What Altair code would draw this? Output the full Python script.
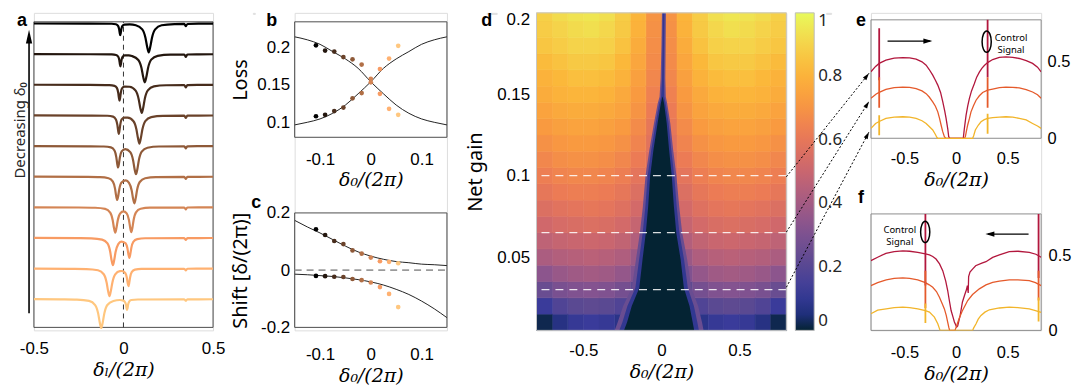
import altair as alt
import pandas as pd

FONT = "Noto Sans"
SERIF = "DejaVu Serif"
BOLD = "Liberation Sans"
TXT = "#262626"
MINUS = "replace(datum.label, '\u2212', '-')"

# ============ panel a : transmission traces (x, depth below baseline) ============
trace_colors = ["#000000", "#23160e", "#472c1c", "#6a422a", "#8e5938",
                "#b16f46", "#d48555", "#f89b63", "#ffb171", "#ffc77f"]
trace_0 = [(-0.5, 0.0), (-0.2, 0.003), (-0.066, 0.008), (-0.042, 0.025), (-0.03, 0.08), (-0.024, 0.19),
           (-0.021, 0.3), (-0.018, 0.38), (-0.015, 0.3), (-0.012, 0.19), (-0.006, 0.08), (0.006, 0.035),
           (0.035, 0.03), (0.069, 0.057), (0.105, 0.19), (0.123, 0.47), (0.132, 0.75), (0.141, 0.94),
           (0.15, 0.75), (0.159, 0.47), (0.177, 0.19), (0.213, 0.057), (0.285, 0.02), (0.338, 0.015),
           (0.344, 0.05), (0.348, 0.09), (0.352, 0.05), (0.358, 0.015), (0.42, 0.006), (0.5, 0.003)]
trace_1 = [(-0.5, 0.0), (-0.2, 0.004), (-0.065, 0.01), (-0.041, 0.03), (-0.029, 0.085), (-0.023, 0.2),
           (-0.02, 0.32), (-0.017, 0.4), (-0.014, 0.32), (-0.011, 0.2), (-0.005, 0.09), (0.007, 0.04),
           (0.03, 0.04), (0.047, 0.06), (0.083, 0.19), (0.101, 0.46), (0.11, 0.74), (0.119, 0.92),
           (0.128, 0.74), (0.137, 0.46), (0.155, 0.18), (0.191, 0.055), (0.263, 0.015), (0.338, 0.012),
           (0.344, 0.05), (0.348, 0.09), (0.352, 0.05), (0.358, 0.012), (0.42, 0.006), (0.5, 0.003)]
trace_2 = [(-0.5, 0.0), (-0.2, 0.005), (-0.078, 0.012), (-0.05, 0.035), (-0.036, 0.11), (-0.029, 0.27),
           (-0.0255, 0.42), (-0.022, 0.52), (-0.0185, 0.42), (-0.015, 0.27), (-0.008, 0.115), (0.006, 0.06),
           (0.034, 0.065), (0.068, 0.19), (0.085, 0.47), (0.0935, 0.74), (0.102, 0.92), (0.1105, 0.74),
           (0.119, 0.46), (0.136, 0.184), (0.17, 0.054), (0.238, 0.015), (0.338, 0.01), (0.344, 0.045),
           (0.348, 0.085), (0.352, 0.045), (0.358, 0.01), (0.42, 0.005), (0.5, 0.003)]
trace_3 = [(-0.5, 0.0), (-0.2, 0.006), (-0.09, 0.012), (-0.058, 0.04), (-0.042, 0.13), (-0.034, 0.31),
           (-0.03, 0.48), (-0.026, 0.6), (-0.022, 0.48), (-0.018, 0.31), (-0.01, 0.13), (0.006, 0.07),
           (0.023, 0.072), (0.056, 0.19), (0.0725, 0.46), (0.081, 0.74), (0.089, 0.92), (0.097, 0.74),
           (0.1055, 0.46), (0.122, 0.184), (0.155, 0.054), (0.221, 0.015), (0.338, 0.01), (0.344, 0.045),
           (0.348, 0.085), (0.352, 0.045), (0.358, 0.01), (0.42, 0.005), (0.5, 0.003)]
trace_4 = [(-0.5, 0.0), (-0.2, 0.008), (-0.11, 0.015), (-0.07, 0.045), (-0.05, 0.145), (-0.04, 0.36),
           (-0.035, 0.57), (-0.03, 0.7), (-0.025, 0.57), (-0.02, 0.37), (-0.01, 0.175), (0.01, 0.1),
           (0.038, 0.2), (0.054, 0.47), (0.062, 0.75), (0.07, 0.92), (0.078, 0.74), (0.086, 0.46),
           (0.102, 0.184), (0.134, 0.054), (0.198, 0.014), (0.338, 0.01), (0.344, 0.04), (0.348, 0.08),
           (0.352, 0.04), (0.358, 0.01), (0.42, 0.005), (0.5, 0.003)]
trace_5 = [(-0.5, 0.0), (-0.2, 0.008), (-0.131, 0.015), (-0.083, 0.05), (-0.059, 0.16), (-0.047, 0.39),
           (-0.041, 0.62), (-0.035, 0.76), (-0.029, 0.62), (-0.023, 0.4), (-0.011, 0.19), (0.013, 0.122),
           (0.031, 0.2), (0.046, 0.45), (0.0535, 0.71), (0.061, 0.87), (0.0685, 0.7), (0.076, 0.435),
           (0.091, 0.174), (0.121, 0.051), (0.181, 0.013), (0.338, 0.008), (0.344, 0.04), (0.348, 0.075),
           (0.352, 0.04), (0.358, 0.008), (0.42, 0.004), (0.5, 0.002)]
trace_6 = [(-0.5, 0.0), (-0.25, 0.006), (-0.158, 0.015), (-0.102, 0.052), (-0.074, 0.17), (-0.06, 0.42),
           (-0.053, 0.67), (-0.046, 0.83), (-0.039, 0.67), (-0.032, 0.43), (-0.018, 0.2), (0.0, 0.135),
           (0.018, 0.2), (0.031, 0.42), (0.0375, 0.66), (0.044, 0.81), (0.0505, 0.65), (0.057, 0.405),
           (0.07, 0.162), (0.096, 0.048), (0.148, 0.012), (0.338, 0.006), (0.344, 0.035), (0.348, 0.07),
           (0.352, 0.035), (0.358, 0.006), (0.42, 0.003), (0.5, 0.002)]
trace_7 = [(-0.5, 0.0), (-0.25, 0.008), (-0.179, 0.015), (-0.119, 0.055), (-0.089, 0.18), (-0.074, 0.45),
           (-0.0665, 0.72), (-0.059, 0.89), (-0.0515, 0.72), (-0.044, 0.46), (-0.029, 0.2), (-0.012, 0.12),
           (0.011, 0.17), (0.022, 0.335), (0.0275, 0.525), (0.033, 0.65), (0.0385, 0.52), (0.044, 0.325),
           (0.055, 0.13), (0.077, 0.04), (0.121, 0.01), (0.338, 0.005), (0.344, 0.035), (0.348, 0.065),
           (0.352, 0.035), (0.358, 0.005), (0.42, 0.003), (0.5, 0.002)]
trace_8 = [(-0.5, 0.0), (-0.3, 0.01), (-0.206, 0.016), (-0.142, 0.056), (-0.11, 0.185), (-0.094, 0.455),
           (-0.086, 0.725), (-0.078, 0.9), (-0.07, 0.72), (-0.062, 0.46), (-0.046, 0.19), (-0.02, 0.084),
           (-0.008, 0.08), (0.01, 0.144), (0.019, 0.3), (0.0235, 0.465), (0.028, 0.575), (0.0325, 0.46),
           (0.037, 0.29), (0.046, 0.115), (0.064, 0.036), (0.1, 0.01), (0.338, 0.005), (0.344, 0.03),
           (0.348, 0.06), (0.352, 0.03), (0.358, 0.005), (0.42, 0.003), (0.5, 0.002)]
trace_9 = [(-0.5, 0.0), (-0.35, 0.006), (-0.26, 0.015), (-0.192, 0.056), (-0.158, 0.19), (-0.141, 0.47),
           (-0.1325, 0.75), (-0.124, 0.94), (-0.1155, 0.75), (-0.107, 0.47), (-0.09, 0.19), (-0.056, 0.058),
           (-0.02, 0.025), (0.0, 0.046), (0.008, 0.09), (0.014, 0.18), (0.017, 0.285), (0.02, 0.35),
           (0.023, 0.285), (0.026, 0.175), (0.032, 0.075), (0.044, 0.025), (0.08, 0.01), (0.338, 0.005),
           (0.344, 0.025), (0.348, 0.05), (0.352, 0.025), (0.358, 0.005), (0.42, 0.003), (0.5, 0.002)]
traces = [trace_0, trace_1, trace_2, trace_3, trace_4, trace_5, trace_6, trace_7, trace_8, trace_9]

# ============ panels b, c ============
delta0_pts = [-0.108, -0.09, -0.072, -0.054, -0.036, -0.018, 0.0, 0.018, 0.036, 0.054]
loss_upper = [0.2027, 0.1956, 0.1943, 0.187, 0.184, 0.177, 0.158, 0.171, 0.185, 0.202]
loss_lower = [0.108, 0.110, 0.115, 0.1196, 0.132, 0.139, 0.1533, 0.138, 0.118, 0.110]
shift_upper = [0.143, 0.123, 0.102, 0.091, 0.069, 0.058, 0.044, 0.031, 0.029, 0.024]
shift_lower = [-0.020, -0.021, -0.023, -0.024, -0.031, -0.035, -0.043, -0.059, -0.083, -0.129]
fit_x = [-0.15, -0.125, -0.1, -0.075, -0.05, -0.025, 0.0, 0.025, 0.05, 0.075, 0.1, 0.125, 0.15]
loss_fit_1 = [0.214, 0.21, 0.204, 0.1943, 0.1845, 0.172, 0.154, 0.138, 0.123, 0.112, 0.1045, 0.1, 0.0965]
loss_fit_2 = [0.0965, 0.1, 0.1045, 0.112, 0.123, 0.138, 0.154, 0.172, 0.1845, 0.1943, 0.204, 0.21, 0.214]
shift_fit_1 = [0.174, 0.151, 0.130, 0.107, 0.084, 0.064, 0.049, 0.038, 0.030, 0.026, 0.021, 0.019, 0.016]
shift_fit_2 = [-0.014, -0.016, -0.019, -0.022, -0.027, -0.033, -0.041, -0.052, -0.067, -0.085, -0.108, -0.135, -0.166]

# ============ panel d : heat map ============
cmap_stops = [0, 0.05, 0.12, 0.22, 0.32, 0.42, 0.52, 0.62, 0.72, 0.82, 0.9, 1.0]
cmap_colors = ["#042333", "#1f2f7a", "#3a3b9a", "#5e4a91", "#845390", "#ab5d80",
               "#d0686b", "#ec7b55", "#f99a40", "#fbb83a", "#f5d34a", "#e8fa5b"]
hm_abs_x = [0.05, 0.15, 0.25, 0.35, 0.45, 0.55, 0.65, 0.75]
hm_g_edges = [0.005, 0.015, 0.025, 0.035, 0.045, 0.055, 0.065, 0.075, 0.085, 0.095, 0.105,
              0.115, 0.125, 0.135, 0.145, 0.155, 0.165, 0.175, 0.185, 0.195, 0.2]
hm_values = [
    [0.0, 0.03, 0.08, 0.11, 0.12, 0.11, 0.07, 0.02],
    [0.05, 0.12, 0.18, 0.21, 0.22, 0.21, 0.18, 0.12],
    [0.12, 0.22, 0.28, 0.31, 0.32, 0.31, 0.29, 0.25],
    [0.22, 0.31, 0.36, 0.39, 0.4, 0.39, 0.37, 0.34],
    [0.3, 0.38, 0.43, 0.45, 0.46, 0.45, 0.44, 0.42],
    [0.36, 0.44, 0.48, 0.5, 0.51, 0.5, 0.49, 0.47],
    [0.41, 0.49, 0.53, 0.55, 0.56, 0.55, 0.54, 0.52],
    [0.45, 0.53, 0.57, 0.59, 0.6, 0.59, 0.58, 0.56],
    [0.49, 0.56, 0.6, 0.62, 0.63, 0.63, 0.62, 0.6],
    [0.52, 0.59, 0.63, 0.65, 0.66, 0.66, 0.65, 0.63],
    [0.55, 0.62, 0.66, 0.68, 0.69, 0.69, 0.68, 0.66],
    [0.58, 0.65, 0.69, 0.71, 0.72, 0.72, 0.71, 0.69],
    [0.6, 0.67, 0.72, 0.74, 0.75, 0.75, 0.74, 0.72],
    [0.62, 0.7, 0.75, 0.77, 0.78, 0.78, 0.77, 0.75],
    [0.64, 0.72, 0.77, 0.8, 0.81, 0.81, 0.8, 0.78],
    [0.66, 0.74, 0.8, 0.83, 0.84, 0.84, 0.82, 0.8],
    [0.67, 0.76, 0.82, 0.86, 0.87, 0.87, 0.85, 0.83],
    [0.68, 0.78, 0.85, 0.89, 0.9, 0.9, 0.88, 0.86],
    [0.69, 0.8, 0.87, 0.91, 0.93, 0.92, 0.9, 0.88],
    [0.7, 0.81, 0.88, 0.93, 0.95, 0.94, 0.92, 0.89],
]
core_g = [0.005, 0.01, 0.02, 0.031, 0.0485, 0.065, 0.081, 0.1, 0.116, 0.132, 0.1444, 0.1485]
core_l = [-0.24, -0.22, -0.19, -0.142, -0.121, -0.1, -0.085, -0.072, -0.051, -0.025, -0.004, 0.006]
core_r = [0.21, 0.2, 0.18, 0.144, 0.123, 0.095, 0.08, 0.066, 0.049, 0.034, 0.017, 0.008]
halo_g = [0.005, 0.01, 0.02, 0.031, 0.0485, 0.065, 0.081, 0.1, 0.116, 0.132, 0.1444, 0.1485, 0.16, 0.18, 0.2]
halo_in_l = [-0.27, -0.25, -0.218, -0.167, -0.143, -0.12, -0.103, -0.088, -0.065, -0.037, -0.014, -0.002, 0.004, 0.007, 0.009]
halo_in_r = [0.24, 0.23, 0.208, 0.169, 0.145, 0.115, 0.098, 0.082, 0.063, 0.046, 0.027, 0.018, 0.016, 0.018, 0.02]
halo_out_l = [-0.3, -0.28, -0.245, -0.19, -0.163, -0.138, -0.119, -0.102, -0.077, -0.048, -0.024, -0.012, -0.005, 0.0, 0.003]
halo_out_r = [0.27, 0.26, 0.235, 0.192, 0.165, 0.133, 0.114, 0.096, 0.075, 0.057, 0.037, 0.028, 0.025, 0.027, 0.029]
gain_cuts = [0.1, 0.065, 0.03]

# ============ panels e, f ============
series = ["0.1", "0.065", "0.03"]
series_colors = ["#b2173d", "#e55a2b", "#f2b52b"]
e_curve_hi = [(-0.825, 0.435), (-0.78, 0.47), (-0.745, 0.49), (-0.68, 0.511), (-0.6, 0.524), (-0.516, 0.528),
              (-0.45, 0.526), (-0.387, 0.518), (-0.33, 0.5), (-0.29, 0.478), (-0.26, 0.45), (-0.226, 0.413),
              (-0.2, 0.38), (-0.177, 0.348), (-0.15, 0.3), (-0.129, 0.24), (-0.11, 0.18), (-0.097, 0.132),
              (-0.08, 0.06), (-0.071, 0.01), (-0.06, 0.0), (0.07, 0.0), (0.08, 0.06), (0.097, 0.15),
              (0.113, 0.21), (0.129, 0.26), (0.15, 0.31), (0.177, 0.357), (0.2, 0.4), (0.226, 0.433),
              (0.25, 0.458), (0.274, 0.476), (0.306, 0.495), (0.355, 0.515), (0.42, 0.53), (0.484, 0.533),
              (0.55, 0.53), (0.613, 0.522), (0.68, 0.508), (0.742, 0.49), (0.79, 0.465), (0.825, 0.435)]
e_curve_mid = [(-0.825, 0.262), (-0.774, 0.29), (-0.745, 0.3), (-0.68, 0.32), (-0.6, 0.332), (-0.516, 0.335),
               (-0.45, 0.333), (-0.387, 0.325), (-0.33, 0.31), (-0.29, 0.292), (-0.26, 0.27), (-0.226, 0.238),
               (-0.2, 0.21), (-0.177, 0.173), (-0.16, 0.13), (-0.145, 0.087), (-0.13, 0.045), (-0.113, 0.01),
               (-0.1, 0.0), (0.08, 0.0), (0.09, 0.01), (0.1, 0.045), (0.113, 0.087), (0.13, 0.13),
               (0.145, 0.173), (0.17, 0.215), (0.194, 0.249), (0.226, 0.278), (0.258, 0.3), (0.306, 0.315),
               (0.355, 0.322), (0.42, 0.332), (0.484, 0.335), (0.55, 0.333), (0.613, 0.33), (0.68, 0.318),
               (0.742, 0.303), (0.79, 0.285), (0.825, 0.262)]
e_curve_lo = [(-0.825, 0.065), (-0.78, 0.097), (-0.745, 0.11), (-0.68, 0.13), (-0.6, 0.138), (-0.516, 0.141),
              (-0.45, 0.139), (-0.387, 0.13), (-0.33, 0.115), (-0.29, 0.097), (-0.26, 0.077), (-0.226, 0.054),
              (-0.2, 0.025), (-0.185, 0.005), (-0.177, 0.0), (0.161, 0.0), (0.17, 0.015), (0.187, 0.054),
              (0.215, 0.085), (0.242, 0.108), (0.274, 0.122), (0.306, 0.13), (0.355, 0.135), (0.42, 0.139),
              (0.484, 0.141), (0.55, 0.139), (0.613, 0.13), (0.68, 0.12), (0.742, 0.097), (0.79, 0.08),
              (0.825, 0.065)]
e_spikes = [(-0.745, 0.38, 0.72, "0.1"), (0.306, 0.40, 0.775, "0.1"),
            (-0.745, 0.2, 0.40, "0.065"), (0.306, 0.2, 0.40, "0.065"),
            (-0.745, 0.02, 0.15, "0.03"), (0.306, 0.03, 0.16, "0.03")]
f_curve_hi = [(-0.825, 0.467), (-0.76, 0.49), (-0.68, 0.516), (-0.6, 0.528), (-0.516, 0.533), (-0.45, 0.53),
              (-0.371, 0.522), (-0.297, 0.512), (-0.258, 0.505), (-0.226, 0.495), (-0.194, 0.478),
              (-0.16, 0.445), (-0.129, 0.4), (-0.1, 0.33), (-0.081, 0.267), (-0.065, 0.2), (-0.048, 0.133),
              (-0.03, 0.09), (-0.016, 0.056), (0.006, 0.022), (0.016, 0.03), (0.04, 0.1), (0.062, 0.19),
              (0.085, 0.24), (0.1, 0.27), (0.11, 0.3), (0.118, 0.25), (0.122, 0.36), (0.135, 0.39),
              (0.16, 0.41), (0.19, 0.433), (0.25, 0.45), (0.29, 0.46), (0.355, 0.489), (0.42, 0.505),
              (0.516, 0.528), (0.6, 0.53), (0.71, 0.522), (0.774, 0.51), (0.825, 0.49)]
f_curve_mid = [(-0.825, 0.3), (-0.76, 0.32), (-0.677, 0.338), (-0.6, 0.348), (-0.516, 0.351), (-0.45, 0.348),
               (-0.371, 0.338), (-0.297, 0.32), (-0.26, 0.305), (-0.226, 0.289), (-0.19, 0.26),
               (-0.161, 0.222), (-0.135, 0.18), (-0.113, 0.144), (-0.095, 0.1), (-0.081, 0.056),
               (-0.07, 0.02), (-0.062, 0.0), (-0.01, 0.0), (0.01, 0.04), (0.03, 0.08), (0.06, 0.13),
               (0.113, 0.2), (0.16, 0.24), (0.226, 0.278), (0.29, 0.305), (0.355, 0.322), (0.42, 0.33),
               (0.516, 0.338), (0.6, 0.338), (0.71, 0.333), (0.77, 0.32), (0.825, 0.3)]
f_curve_lo = [(-0.825, 0.111), (-0.76, 0.135), (-0.677, 0.144), (-0.6, 0.153), (-0.516, 0.156), (-0.45, 0.153),
              (-0.371, 0.144), (-0.297, 0.132), (-0.258, 0.122), (-0.21, 0.089), (-0.177, 0.044),
              (-0.16, 0.01), (-0.155, 0.0), (0.161, 0.0), (0.17, 0.015), (0.194, 0.044), (0.215, 0.075),
              (0.242, 0.1), (0.28, 0.122), (0.323, 0.138), (0.42, 0.15), (0.516, 0.156), (0.6, 0.153),
              (0.71, 0.144), (0.77, 0.133), (0.825, 0.12)]
f_spikes = [(-0.297, 0.3, 0.78, "0.1"), (0.8, 0.35, 0.78, "0.1"),
            (-0.297, 0.15, 0.4, "0.065"), (0.8, 0.2, 0.4, "0.065"),
            (-0.297, 0.05, 0.18, "0.03"), (0.8, 0.06, 0.22, "0.03")]

# annotation shapes (tip of each arrow head at the origin)
HEAD_UP = "M0,0L0.45,2L-0.45,2Z"
HEAD_RIGHT = "M0,0L-2,-0.6L-2,0.6Z"
HEAD_LEFT = "M0,0L2,-0.6L2,0.6Z"
HEAD_SMALL = "M0,0L0.5,1.6L-0.5,1.6Z"
ELLIPSE = "M0,-1A0.43,1 0 1,1 0,1A0.43,1 0 1,1 0,-1Z"


# ---------------------------------------------------------------- helpers
def xaxis(values, offset, lpad, tpad, title="δ₀/(2π)", size=17):
    return alt.Axis(orient="bottom", values=values, offset=offset, labelPadding=lpad,
                    labelFontSize=size, format="~g", labelExpr=MINUS, labelFlush=False,
                    labelOverlap=False, title=title, titleFont=SERIF, titleFontStyle="italic",
                    titleFontWeight="normal", titleFontSize=19, titlePadding=tpad,
                    domain=False, ticks=False, tickSize=0, grid=False)


def yaxis(values, orient, lpad, title=None, tpad=0, size=17, flush=False, flush_off=0):
    kw = dict(orient=orient, values=values, labelPadding=lpad, labelFontSize=size, format="~g",
              labelExpr=MINUS, labelOverlap=False, domain=False, ticks=False, tickSize=0,
              grid=False, labelFlush=flush, labelFlushOffset=flush_off)
    if title:
        kw.update(title=title, titleFont=FONT, titleFontSize=20, titleFontWeight="normal",
                  titlePadding=tpad)
    else:
        kw.update(title=None)
    return alt.Axis(**kw)


def make_xy(xdom, ydom, yrange, ax_x, ax_y):
    def fx(f):
        return alt.X(f + ":Q", scale=alt.Scale(domain=xdom, nice=False, zero=False), axis=ax_x)

    def fy(f):
        sc = alt.Scale(domain=ydom, nice=False, zero=False, range=yrange) if yrange else \
            alt.Scale(domain=ydom, nice=False, zero=False)
        return alt.Y(f + ":Q", scale=sc, axis=ax_y)
    return fx, fy


def frame(fx, fy, xdom, ydom, color):
    df = pd.DataFrame({"x0": [xdom[0]], "x1": [xdom[1]], "y0": [ydom[0]], "y1": [ydom[1]]})
    return alt.Chart(df).mark_rect(fill="transparent", stroke=color, strokeWidth=1).encode(
        x=fx("x0"), x2="x1", y=fy("y0"), y2="y1")


def letter(fx, fy, x, y, t):
    df = pd.DataFrame({"x": [x], "y": [y], "t": [t]})
    return alt.Chart(df).mark_text(font=BOLD, fontSize=18, fontWeight="bold", color="black",
                                   align="center", baseline="alphabetic", clip=False).encode(
        x=fx("x"), y=fy("y"), text="t:N")


# ---------------------------------------------------------------- panel a
a_xdom, a_ydom = [-0.5, 0.5], [-0.92, 9.055]
fxa, fya = make_xy(a_xdom, a_ydom, [316, 9],
                   xaxis([-0.5, 0, 0.5], -3, 13.5, 3.5, title="δₗ/(2π)"), None)
rows = []
for k, tr in enumerate(traces):
    for i, (x, dep) in enumerate(tr):
        rows.append({"trace": f"t{k}", "i": i, "x": x, "y": (9 - k) - dep})
df_a = pd.DataFrame(rows)
a_lines = alt.Chart(df_a).mark_line(strokeWidth=2.2, interpolate="monotone", clip=True).encode(
    x=fxa("x"), y=fya("y"),
    color=alt.Color("trace:N", scale=alt.Scale(domain=[f"t{k}" for k in range(10)], range=trace_colors),
                    legend=None),
    order="i:Q")
a_zero = alt.Chart(pd.DataFrame({"x": [0.0], "y0": [a_ydom[0]], "y1": [a_ydom[1]]})).mark_rule(
    strokeDash=[5, 4], strokeWidth=1, color="#333333").encode(x=fxa("x"), y=fya("y0"), y2="y1")
a_arrow = alt.Chart(pd.DataFrame({"x": [-0.527], "y0": [-0.46], "y1": [8.6]})).mark_rule(
    strokeWidth=1.6, color="black", clip=False).encode(x=fxa("x"), y=fya("y0"), y2="y1")
a_head = alt.Chart(pd.DataFrame({"x": [-0.527], "y": [8.8]})).mark_point(
    shape=HEAD_UP, size=196, filled=True, color="black", opacity=1, clip=False).encode(
    x=fxa("x"), y=fya("y"))
a_label = alt.Chart(pd.DataFrame({"x": [-0.577], "y": [5.51], "t": ["Decreasing δ₀"]})).mark_text(
    angle=270, align="center", baseline="middle", font=FONT, fontSize=15, color=TXT, clip=False).encode(
    x=fxa("x"), y=fya("y"), text="t:N")
A = alt.layer(frame(fxa, fya, a_xdom, a_ydom, "#4d4d4d"), a_zero, a_lines, a_arrow, a_head, a_label,
              letter(fxa, fya, -0.567, 8.918, "a")).properties(width=180, height=319)

# ---------------------------------------------------------------- panels b, c
pt_colors = trace_colors
pt_dom = [f"p{i}" for i in range(10)]
bc_xdom = [-0.15, 0.15]
b_ydom = [0.08, 0.234]
fxb, fyb = make_xy(bc_xdom, b_ydom, [125, 9], xaxis([-0.1, 0, 0.1], -194, 14.6, 2.5),
                   yaxis([0.1, 0.15, 0.2], "left", 5, "Loss", 6))
df_bfit = pd.DataFrame({"x": fit_x * 2, "y": loss_fit_1 + loss_fit_2,
                        "s": ["f1"] * len(fit_x) + ["f2"] * len(fit_x)})
df_bpts = pd.DataFrame({"x": delta0_pts * 2, "y": loss_upper + loss_lower,
                        "p": pt_dom + pt_dom})
b_fit = alt.Chart(df_bfit).mark_line(color="#222222", strokeWidth=1, interpolate="monotone",
                                     clip=True).encode(x=fxb("x"), y=fyb("y"), detail="s:N")
b_pts = alt.Chart(df_bpts).mark_circle(size=22, opacity=1).encode(
    x=fxb("x"), y=fyb("y"),
    color=alt.Color("p:N", scale=alt.Scale(domain=pt_dom, range=pt_colors), legend=None))
B = alt.layer(frame(fxb, fyb, bc_xdom, b_ydom, "#4d4d4d"), b_fit, b_pts,
              letter(fxb, fyb, -0.195, 0.2284, "b"))

c_ydom = [-0.2, 0.2]
fxc, fyc = make_xy(bc_xdom, c_ydom, [316, 201], xaxis([-0.1, 0, 0.1], -3, 19.6, 3.5),
                   yaxis([-0.2, 0, 0.2], "left", 5, "Shift [δ/(2π)]", 10))
df_cfit = pd.DataFrame({"x": fit_x * 2, "y": shift_fit_1 + shift_fit_2,
                        "s": ["f1"] * len(fit_x) + ["f2"] * len(fit_x)})
df_cpts = pd.DataFrame({"x": delta0_pts * 2, "y": shift_upper + shift_lower,
                        "p": pt_dom + pt_dom})
c_zero = alt.Chart(pd.DataFrame({"x0": [bc_xdom[0]], "x1": [bc_xdom[1]], "y": [0.0]})).mark_rule(
    color="#9a9a9a", strokeWidth=1.8, strokeDash=[7, 5]).encode(x=fxc("x0"), x2="x1", y=fyc("y"))
c_fit = alt.Chart(df_cfit).mark_line(color="#222222", strokeWidth=1, interpolate="monotone",
                                     clip=True).encode(x=fxc("x"), y=fyc("y"), detail="s:N")
c_pts = alt.Chart(df_cpts).mark_circle(size=22, opacity=1).encode(
    x=fxc("x"), y=fyc("y"),
    color=alt.Color("p:N", scale=alt.Scale(domain=pt_dom, range=pt_colors), legend=None))
C = alt.layer(frame(fxc, fyc, bc_xdom, c_ydom, "#4d4d4d"), c_zero, c_fit, c_pts,
              letter(fxc, fyc, -0.2255, 0.2174, "c"))
BC = alt.layer(B, C).resolve_scale(x="independent", y="independent").properties(width=153, height=319)

# ---------------------------------------------------------------- panel d
d_xdom, d_ydom = [-0.8, 0.8], [0.005, 0.2]
fxd, fyd = make_xy(d_xdom, d_ydom, None, xaxis([-0.5, 0, 0.5], 0, 12.6, 4),
                   yaxis([0.05, 0.1, 0.15, 0.2], "left", 7, "Net gain", 11, flush=True, flush_off=1))
cscale = alt.Scale(domain=cmap_stops, range=cmap_colors, interpolate="rgb")
cleg = alt.Legend(title=None, orient="right", offset=9, direction="vertical", gradientLength=319,
                  gradientThickness=19, values=[0, 0.2, 0.4, 0.6, 0.8, 1], format="~g",
                  labelFont=FONT, labelFontSize=17, labelColor=TXT, labelOffset=4, padding=0,
                  gradientStrokeColor="#bdbdbd", gradientStrokeWidth=1)
hm_rows = []
for r, vals in enumerate(hm_values):
    for j, cx in enumerate(hm_abs_x):
        for sgn in (-1, 1):
            a_, b_ = sgn * (cx - 0.05), sgn * (cx + 0.05)
            hm_rows.append({"x0": min(a_, b_), "x1": max(a_, b_), "g0": hm_g_edges[r],
                            "g1": hm_g_edges[r + 1], "v": vals[j]})
df_hm = pd.DataFrame(hm_rows)
d_heat = alt.Chart(df_hm).mark_rect(strokeWidth=0.6).encode(
    x=fxd("x0"), x2="x1", y=fyd("g0"), y2="g1",
    color=alt.Color("v:Q", scale=cscale, legend=cleg),
    stroke=alt.Stroke("v:Q", scale=cscale, legend=None))


def band(gs, ls, rs, v):
    df = pd.DataFrame({"g": gs, "xl": ls, "xr": rs, "v": [v] * len(gs)})
    return alt.Chart(df).mark_area(orient="horizontal", clip=True).encode(
        y=fyd("g"), x=fxd("xl"), x2="xr", color=alt.Color("v:Q", scale=cscale, legend=cleg))


d_halo_out = band(halo_g, halo_out_l, halo_out_r, 0.25)
d_halo_in = band(halo_g, halo_in_l, halo_in_r, 0.1)
d_core = band(core_g, core_l, core_r, 0.0)
d_cuts = alt.Chart(pd.DataFrame({"g": gain_cuts})).mark_rule(
    color="white", strokeDash=[8, 6], strokeWidth=1.2, opacity=0.85).encode(y=fyd("g"))
D = alt.layer(d_heat, d_halo_out, d_halo_in, d_core, d_cuts,
              frame(fxd, fyd, d_xdom, d_ydom, "#c8c8c8"),
              letter(fxd, fyd, -1.119, 0.19193, "d")).properties(width=251, height=319)

# ---------------------------------------------------------------- panels e, f
ef_xdom = [-0.825, 0.825]
ser_scale = alt.Scale(domain=series, range=series_colors)


def curves_df(hi, mid, lo):
    rows_ = []
    for name, cur in zip(series, [hi, mid, lo]):
        for i, (x, v) in enumerate(cur):
            rows_.append({"x": x, "v": v, "s": name, "i": i})
    return pd.DataFrame(rows_)


def spikes_df(sp):
    return pd.DataFrame(sp, columns=["x", "v0", "v1", "s"])


def ef_panel(fx, fy, ydom, cdf, sdf, ell, ctrl, arrow, head_shape, head_x, let):
    lines = alt.Chart(cdf).mark_line(strokeWidth=1.3, clip=True).encode(
        x=fx("x"), y=fy("v"), color=alt.Color("s:N", scale=ser_scale, legend=None), order="i:Q")
    spikes = alt.Chart(sdf).mark_rule(strokeWidth=1.8, clip=True).encode(
        x=fx("x"), y=fy("v0"), y2="v1", color=alt.Color("s:N", scale=ser_scale, legend=None))
    ellipse = alt.Chart(pd.DataFrame({"x": [ell[0]], "y": [ell[1]]})).mark_point(
        shape=ELLIPSE, size=458, filled=False, color="black", strokeWidth=1.5, opacity=1).encode(
        x=fx("x"), y=fy("y"))
    texts = alt.Chart(pd.DataFrame({"x": [ctrl[0]], "y": [ctrl[1]], "t": ["Control\nSignal"]})).mark_text(
        font=FONT, fontSize=9.5, lineHeight=12, lineBreak="\n", color="black", align="center",
        baseline="middle").encode(x=fx("x"), y=fy("y"), text="t:N")
    arr = alt.Chart(pd.DataFrame({"x0": [arrow[0]], "x1": [arrow[1]], "y": [arrow[2]]})).mark_rule(
        strokeWidth=1.2, color="black").encode(x=fx("x0"), x2="x1", y=fy("y"))
    head = alt.Chart(pd.DataFrame({"x": [head_x], "y": [arrow[2]]})).mark_point(
        shape=head_shape, size=81, filled=True, color="black", opacity=1).encode(x=fx("x"), y=fy("y"))
    return [frame(fx, fy, ef_xdom, ydom, "#8c8c8c"), lines, spikes, ellipse, texts, arr, head,
            letter(fx, fy, let[0], let[1], let[2])]


e_ydom = [0, 0.775]
fxe, fye = make_xy(ef_xdom, e_ydom, [126, 7], xaxis([-0.5, 0, 0.5], -193, 12.4, 3.8, size=16.5),
                   yaxis([0, 0.5], "right", 6, size=16.5))
e_layers = ef_panel(fxe, fye, e_ydom, curves_df(e_curve_hi, e_curve_mid, e_curve_lo), spikes_df(e_spikes),
                    (0.297, 0.632), (0.533, 0.656), (-0.664, -0.25, 0.636), HEAD_RIGHT, -0.23,
                    (-0.922, 0.7346, "e"))
# dotted connectors from the three gain cuts of panel d to the curves of panel e
conn = pd.DataFrame({"x0": [-1.645] * 3, "v0": [-0.252, -0.614, -0.975],
                     "x1": [-0.844] * 3, "v1": [0.425, 0.241, 0.041], "ang": [38.6, 32.3, 28.0]})
e_conn = alt.Chart(conn).mark_rule(strokeWidth=1, color="black", strokeDash=[2, 2], clip=False).encode(
    x=fxe("x0"), x2="x1", y=fye("v0"), y2="v1")
e_conn_head = alt.Chart(conn).mark_point(shape=HEAD_SMALL, size=77, filled=True, color="black",
                                         opacity=1, clip=False).encode(
    x=fxe("x1"), y=fye("v1"), angle=alt.Angle("ang:Q", scale=None))
E = alt.layer(*e_layers, e_conn, e_conn_head)

f_ydom = [0, 0.78]
fxf, fyf = make_xy(ef_xdom, f_ydom, [319, 202], xaxis([-0.5, 0, 0.5], 0, 14.6, 3.5, size=16.5),
                   yaxis([0, 0.5], "right", 7, size=16.5))
f_layers = ef_panel(fxf, fyf, f_ydom, curves_df(f_curve_hi, f_curve_mid, f_curve_lo), spikes_df(f_spikes),
                    (-0.299, 0.659), (-0.545, 0.669), (0.31, 0.703, 0.645), HEAD_LEFT, 0.285,
                    (-0.922, 0.853, "f"))
F = alt.layer(*f_layers)
EF = alt.layer(E, F).resolve_scale(x="independent", y="independent").properties(width=171, height=319)


def spacer(w):
    return alt.Chart(pd.DataFrame({"z": [0]})).mark_point(opacity=0).encode(
        x=alt.value(0), y=alt.value(0)).properties(width=w, height=1)


chart = alt.hconcat(A, spacer(2), BC, spacer(10), D, spacer(5), EF,
                    spacing=40, bounds="flush",
                    padding={"left": 4, "top": 0, "right": 0, "bottom": 0}).configure_view(
    strokeOpacity=0).configure_axis(labelFont=FONT, labelColor=TXT, titleColor=TXT).configure(
    background="white")

chart.save("out.html", embed_options={"renderer": "svg", "actions": False})
